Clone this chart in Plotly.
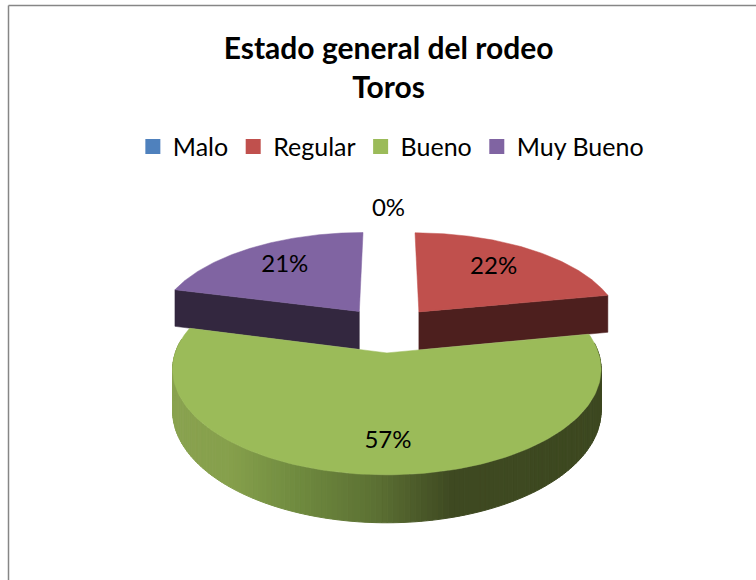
import numpy as np
import plotly.graph_objects as go

# --- data ---
categories = ["Malo", "Regular", "Bueno", "Muy Bueno"]
percent_values = [0, 22, 57, 21]
title_lines = ["Estado general del rodeo", "Toros"]

# --- styles ---
top_colors = ["#4F81BD", "#C0504D", "#9BBB59", "#8064A2"]
cut_colors = ["#1f3350", "#4D1F1E", "#3F4A22", "#33273F"]
wall_stops_x = [170, 230, 300, 380, 450, 610]
wall_stops_rgb = [(138, 163, 80), (134, 160, 76), (111, 138, 63), (91, 111, 51), (63, 74, 34), (61, 72, 32)]

# --- projection of the 3D pie onto the page ---
CX, CY, A, B, P, DEPTH, EXPLODE = 388.5, 329.1, 204, 95.7, 0.15, 39.0, 0.24
FONT = "Lato"
LABEL_R = [1.29, 0.68, 0.76, 0.68]
LABEL_DX = [0, -3, 7, 0]


def project(x, y, z=0.0):
    f = 1.0 / (1.0 + P * np.asarray(y, dtype=float))
    return CX + A * np.asarray(x, dtype=float) * f, CY - B * np.asarray(y, dtype=float) * f + DEPTH * z * f


def poly(xs, ys, color, width=0.5):
    return go.Scatter(x=list(xs), y=list(ys), mode="lines", fill="toself", fillcolor=color,
                      line=dict(color=color, width=width), hoverinfo="skip", showlegend=False)


fig = go.Figure()
total = sum(percent_values)
edges = np.cumsum([0] + percent_values) / total * 2 * np.pi
order = [3, 1, 2, 0]
labels = {}

for i in order:
    a0, a1 = edges[i], edges[i + 1]
    mid = (a0 + a1) / 2
    ox, oy = EXPLODE * np.sin(mid), EXPLODE * np.cos(mid)
    lx, ly = project(ox + LABEL_R[i] * np.sin(mid), oy + LABEL_R[i] * np.cos(mid))
    labels[i] = (float(lx) + LABEL_DX[i], float(ly))
    if a1 - a0 <= 0:
        continue
    th = np.linspace(a0, a1, 160)
    wx, wy = ox + np.sin(th), oy + np.cos(th)

    # radial cut faces that look towards the viewer
    for ang in (a0, a1):
        ex, ey = ox + np.sin(ang), oy + np.cos(ang)
        if i == 1 and ang == a1 or i == 3 and ang == a0:
            x0, y0 = project([ox, ex], [oy, ey], 0)
            x1, y1 = project([ox, ex], [oy, ey], 1)
            fig.add_trace(poly([x0[0], x0[1], x1[1], x1[0], x0[0]],
                               [y0[0], y0[1], y1[1], y1[0], y0[0]], cut_colors[i]))

    # outer wall, shaded left to right
    if i == 2:
        for k in range(len(th) - 1):
            if np.cos(th[k]) > 0.12:
                continue
            sx0, sy0 = project(wx[k:k + 2], wy[k:k + 2], 0)
            sx1, sy1 = project(wx[k:k + 2], wy[k:k + 2], 1)
            xm = float(sx0.mean())
            rgb = [int(np.interp(xm, wall_stops_x, [c[j] for c in wall_stops_rgb])) for j in range(3)]
            col = f"rgb({rgb[0]},{rgb[1]},{rgb[2]})"
            fig.add_trace(poly([sx0[0], sx0[1], sx1[1], sx1[0], sx0[0]],
                               [sy0[0], sy0[1], sy1[1], sy1[0], sy0[0]], col, 1))

    # top face
    tx, ty = project(np.r_[ox, wx, ox], np.r_[oy, wy, oy], 0)
    fig.add_trace(poly(tx, ty, top_colors[i]))

# data labels
for i in range(len(categories)):
    fig.add_trace(go.Scatter(x=[labels[i][0]], y=[labels[i][1]], mode="text",
                             text=[f"{percent_values[i]}%"], textposition="middle center",
                             textfont=dict(family=FONT, size=24, color="black"),
                             hoverinfo="skip", showlegend=False))

# legend entries
for i, name in enumerate(categories):
    fig.add_trace(go.Scatter(x=[None], y=[None], mode="markers", name=name,
                             marker=dict(symbol="square", size=15, color=top_colors[i])))

fig.update_layout(
    width=756, height=580,
    margin=dict(l=0, r=0, t=0, b=0),
    paper_bgcolor="white", plot_bgcolor="white",
    xaxis=dict(range=[0, 756], visible=False, fixedrange=True),
    yaxis=dict(range=[580, 0], visible=False, fixedrange=True),
    title=dict(text="<br>".join(title_lines), x=0.514, xanchor="center", y=0.899, yanchor="middle",
               font=dict(family=FONT, size=30, color="black", weight="bold")),
    legend=dict(orientation="h", x=0.517, xanchor="center", y=0.747, yanchor="middle",
                font=dict(family=FONT, size=25, color="black"), itemwidth=30, bgcolor="rgba(0,0,0,0)"),
    shapes=[
        dict(type="line", x0=8.5, x1=8.5, y0=5.5, y1=580, line=dict(color="#868686", width=1.5)),
        dict(type="line", x0=8.5, x1=756, y0=5.5, y1=5.5, line=dict(color="#868686", width=1.5)),
    ],
)

fig.write_html("out.html", config=dict(displayModeBar=False),
               post_script="document.body.style.margin='0';")
